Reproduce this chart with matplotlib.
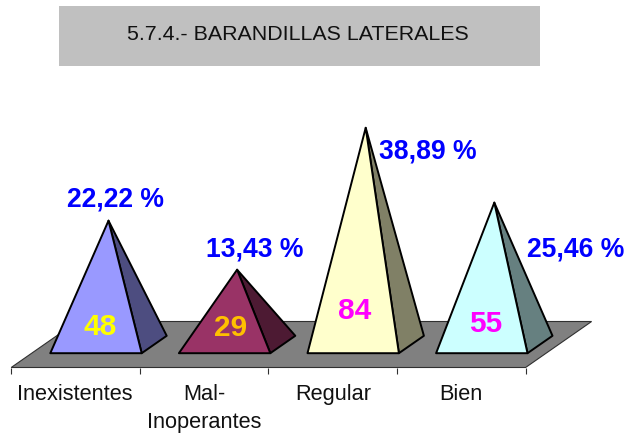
import matplotlib
matplotlib.use("Agg")
import matplotlib.pyplot as plt
from matplotlib.patches import Polygon, Rectangle
from matplotlib.transforms import Affine2D

categories = ["Inexistentes", "Mal-\nInoperantes", "Regular", "Bien"]
values = [48, 29, 84, 55]
percent_labels = ["22,22 %", "13,43 %", "38,89 %", "25,46 %"]
title = "5.7.4.- BARANDILLAS LATERALES"

front_colors = ["#9999FF", "#993366", "#FFFFCC", "#CCFFFF"]
side_colors = ["#4D4D80", "#4D1A33", "#808066", "#668080"]
value_colors = ["#FFFF00", "#FFC000", "#FF00FF", "#FF00FF"]

W, H = 627, 435
plt.rcParams["font.family"] = ["Liberation Sans", "DejaVu Sans"]
fig = plt.figure(figsize=(W / 100, H / 100), dpi=100, facecolor="white")
ax = fig.add_axes([0, 0, 1, 1])

# Scales: pixels per category and per unit of value; origin at first pyramid's base centre
PX_X, PX_Y = 128.6, 2.58
X0, Y0 = 108.5, 345.5
ax.set_xlim(-X0 / PX_X, (W - X0) / PX_X)
ax.set_ylim((Y0 - H) / PX_Y, Y0 / PX_Y)
ax.axis("off")

px = Affine2D().scale(1, -1).translate(0, H)  # reference pixel coordinates

# Floor (depth offsets in data units)
depth_x, depth_y = 33 / PX_X, 23 / PX_Y
n = len(values)
left, right = -0.5 - depth_x, n - 0.5 - depth_x
ax.add_patch(Polygon([(left, -depth_y), (right, -depth_y), (right + 2 * depth_x, depth_y),
                      (left + 2 * depth_x, depth_y)], closed=True,
                     facecolor="#808080", edgecolor="#303030", linewidth=0.8, zorder=1))
tick_len = 6 / PX_Y
for i in range(n + 1):
    tx = left + i
    ax.plot([tx, tx], [-depth_y, -depth_y - tick_len], color="#303030", lw=0.8,
            solid_capstyle="butt", zorder=1)

# Pyramids
half_w, off_x, off_y = 45.7 / PX_X, 12.5 / PX_X, 8.7 / PX_Y
for i, v in enumerate(values):
    fl = (i - half_w - off_x, -off_y)
    fr = (i + half_w - off_x, -off_y)
    br = (i + half_w + off_x, off_y)
    apex = (i, v)
    ax.add_patch(Polygon([fr, br, apex], closed=True, facecolor=side_colors[i],
                         edgecolor="black", linewidth=1.4, joinstyle="round", zorder=2))
    ax.add_patch(Polygon([fl, fr, apex], closed=True, facecolor=front_colors[i],
                         edgecolor="black", linewidth=1.4, joinstyle="round", zorder=3))

# Title box
ax.add_patch(Rectangle((59, 6.5), 481, 60, transform=px, facecolor="#C0C0C0",
                       edgecolor="none", zorder=1))
ax.text(297.5, 34.5, title, transform=px, ha="center", va="center", fontsize=15.4,
        color="#111111", zorder=5)

# Tick labels
label_x = [74.5, 204.5, 333, 461]
for s, x in zip(categories, label_x):
    ax.text(x, 384, s, transform=px, ha="center", va="top", fontsize=15.7,
            color="#111111", linespacing=1.44, zorder=5)

# Value labels
vx = [100, 231, 355, 486]
vy = [327.5, 328.5, 311.5, 324.5]
for i, v in enumerate(values):
    ax.text(vx[i], vy[i], str(v), transform=px, ha="center", va="center", fontsize=21.5,
            fontweight="bold", color=value_colors[i], zorder=5)

# Percentage labels
px_x = [115.5, 254.5, 427.5, 575.5]
px_y = [200, 250, 152, 250]
for s, x, y in zip(percent_labels, px_x, px_y):
    ax.text(x, y, s, transform=px, ha="center", va="center", fontsize=19.1,
            fontweight="bold", color="#0000FF", zorder=5)

fig.savefig("out.png", dpi=100)
